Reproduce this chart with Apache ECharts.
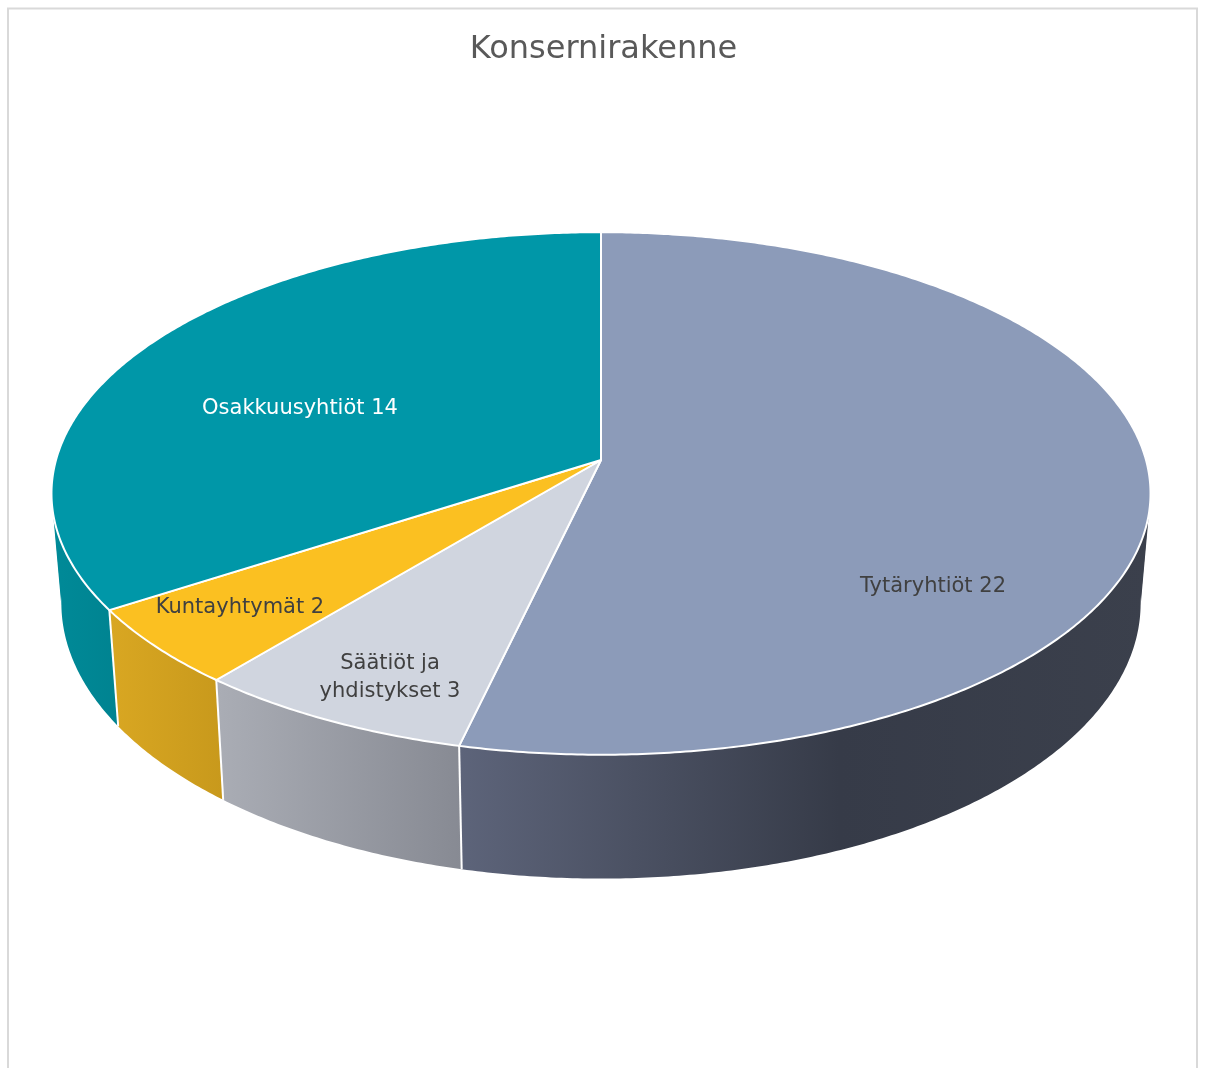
<!DOCTYPE html>
<html>
<head>
<meta charset="utf-8">
<title>Konsernirakenne</title>
<script src="https://cdn.jsdelivr.net/npm/echarts@6/dist/echarts.min.js"></script>
<style>
  html, body { margin: 0; padding: 0; background: #fff; }
  #chart { width: 1207px; height: 1068px; }
</style>
</head>
<body>
<div id="chart"></div>
<script>
  // data
  const categories = ['Tytäryhtiöt', 'Säätiöt ja\nyhdistykset', 'Kuntayhtymät', 'Osakkuusyhtiöt']
  const values = [22, 3, 2, 14]

  // look
  const topColors = ['#8c9bb9', '#d0d5df', '#fbc021', '#0097a8']
  const sideColors = [
    [[0, '#5d647a'], [0.55, '#363b48'], [1, '#3b404c']],
    [[0, '#aaadb5'], [1, '#878a93']],
    [[0, '#d9a722'], [1, '#c8991c']],
    [[0, '#008a98'], [1, '#007e8b']]
  ]
  const labelColors = ['#404040', '#404040', '#404040', '#ffffff']
  // label anchor offsets from the pie centre (Excel places them freely)
  const labelOffsets = [[332, 127], [-211, 218], [-361, 148], [-301, -51]]

  const FONT = 'Tahoma, "DejaVu Sans", sans-serif'
  const CX = 601, CY = 460 // pie centre
  const RX = 545, RY = 257 // radii of the top face
  const K = 0.128 // perspective strength
  const DEPTH = 108 // thickness
  const SIL = Math.acos(-K) // angle of the widest point (right side)

  const total = values.reduce((a, b) => a + b, 0)
  const starts = []
  values.reduce((acc, v) => { starts.push(acc); return acc + v }, 0)

  // angle: clockwise from 12 o'clock, r: 0..1, d: 0 top / 1 bottom
  function proj(phi, r, d) {
    const u = r * Math.sin(phi)
    const v = -r * Math.cos(phi)
    const s = 1 / (1 - K * v)
    return [CX + RX * u * s * (1 - 0.018 * d), CY + RY * v * s + d * DEPTH * s]
  }

  function arc(a0, a1, d) {
    const pts = []
    const n = Math.max(2, Math.ceil((a1 - a0) / (Math.PI / 360)))
    for (let i = 0; i <= n; i++) {
      pts.push(proj(a0 + (a1 - a0) * i / n, 1, d))
    }
    return pts
  }

  function renderItem(params, api) {
    const i = params.dataIndex
    const a0 = starts[i] / total * Math.PI * 2
    const a1 = (starts[i] + api.value(0)) / total * Math.PI * 2
    const children = []

    // outer wall; the back part is hidden under the top faces
    const s0 = Math.max(a0, Math.PI / 3)
    const s1 = Math.min(a1, Math.PI * 5 / 3)
    if (s1 > s0) {
      // split at the silhouette so each ribbon is swept correctly
      const cuts = [s0]
      ;[SIL, Math.PI * 2 - SIL].forEach(c => { if (c > s0 && c < s1) cuts.push(c) })
      cuts.push(s1)
      const all = arc(s0, s1, 0).concat(arc(s0, s1, 1))
      const xs = all.map(p => p[0])
      const gx0 = Math.min.apply(null, xs), gx1 = Math.max.apply(null, xs)
      const fill = new echarts.graphic.LinearGradient(gx0, 0, gx1, 0,
        sideColors[i].map(c => ({ offset: c[0], color: c[1] })), true)
      for (let k = 0; k < cuts.length - 1; k++) {
        const b0 = Math.max(s0, cuts[k] - 0.01)
        const b1 = Math.min(s1, cuts[k + 1] + 0.01)
        children.push({
          type: 'polygon',
          z2: 1,
          shape: { points: arc(b0, b1, 0).concat(arc(b0, b1, 1).reverse()) },
          style: { fill: fill }
        })
      }
    }
    if (a0 > Math.PI / 2 && a0 < Math.PI * 1.5) {
      const p = proj(a0, 1, 0), q = proj(a0, 1, 1)
      children.push({
        type: 'line',
        z2: 2,
        shape: { x1: p[0], y1: p[1], x2: q[0], y2: q[1] },
        style: { stroke: '#ffffff', lineWidth: 2 }
      })
    }

    // top face
    children.push({
      type: 'polygon',
      z2: 10,
      shape: { points: [[CX, CY]].concat(arc(a0, a1, 0)) },
      style: { fill: topColors[i], stroke: '#ffffff', lineWidth: 2, lineJoin: 'round' }
    })

    children.push({
      type: 'text',
      z2: 20,
      style: {
        text: categories[i] + ' ' + api.value(0),
        x: CX + labelOffsets[i][0],
        y: CY + labelOffsets[i][1],
        fill: labelColors[i],
        fontSize: 21,
        fontFamily: FONT,
        lineHeight: 28,
        align: 'center',
        verticalAlign: 'middle'
      }
    })
    return { type: 'group', children: children }
  }

  const chart = echarts.init(document.getElementById('chart'))
  chart.setOption({
    animation: false,
    title: {
      text: 'Konsernirakenne',
      left: 'center',
      top: 29,
      textStyle: { color: '#595959', fontSize: 32, fontWeight: 'normal', fontFamily: FONT }
    },
    graphic: [{
      type: 'rect',
      shape: { x: 8, y: 8.5, width: 1189, height: 1100 },
      style: { fill: 'none', stroke: '#d9d9d9', lineWidth: 2 },
      silent: true
    }],
    series: [{
      type: 'custom',
      coordinateSystem: 'none',
      renderItem: renderItem,
      data: values.map((v, i) => ({ name: categories[i], value: [v] }))
    }]
  })
</script>
</body>
</html>
